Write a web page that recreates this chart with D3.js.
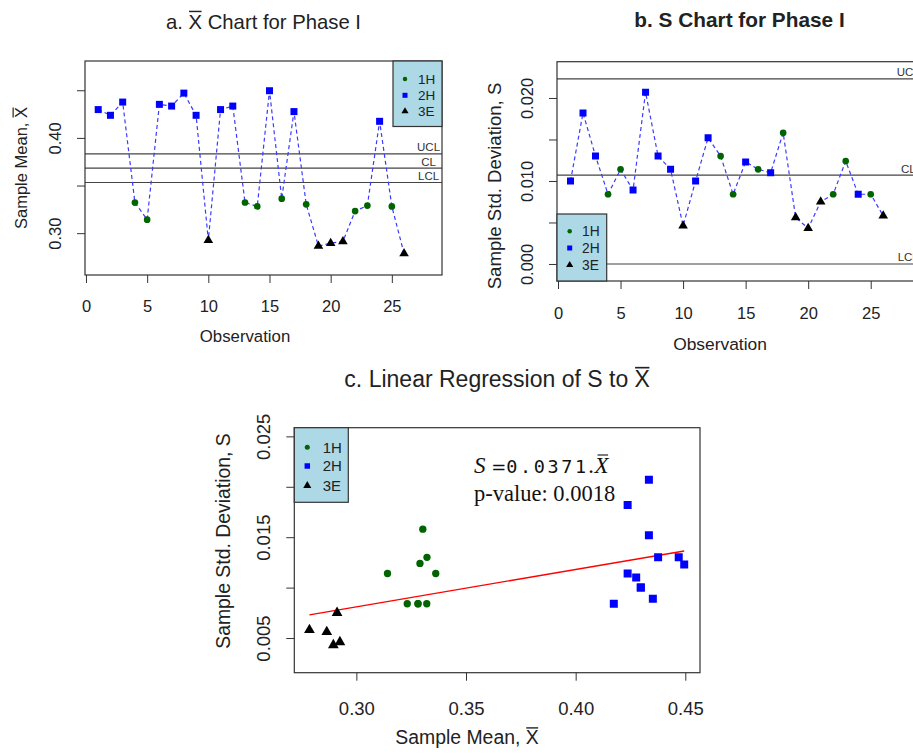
<!DOCTYPE html>
<html>
<head>
<meta charset="utf-8">
<script src="https://cdn.jsdelivr.net/npm/d3@7"></script>
<style>
  body { margin: 0; background: #fff; }
  svg { font-family: "Liberation Sans", Arial, sans-serif; }
</style>
</head>
<body>
<div id="chart"></div>
<script>
// data
var obsIndex = [1,2,3,4,5,6,7,8,9,10,11,12,13,14,15,16,17,18,19,20,21,22,23,24,25,26];
var group = ["2H","2H","2H","1H","1H","2H","2H","2H","2H","3E","2H","2H","1H",
             "1H","2H","1H","2H","1H","3E","3E","3E","1H","1H","2H","1H","3E"];
var sampleMean = [0.4297,0.4237,0.4376,0.3321,0.3142,0.4352,0.4334,0.4470,0.4237,0.2925,0.4297,0.4334,0.3322,
                  0.3281,0.4495,0.3362,0.4276,0.3303,0.2865,0.2895,0.2912,0.3232,0.3290,0.4174,0.3281,0.2786];
var sampleSD = [0.0100,0.0182,0.0130,0.0084,0.0114,0.0089,0.0207,0.0130,0.0114,0.0046,0.0100,0.0152,0.0130,
                0.0084,0.0123,0.0114,0.0110,0.0158,0.0056,0.0043,0.0075,0.0084,0.0124,0.0084,0.0084,0.0058];
var limitNames = ["UCL","CL","LCL"];
var meanLimits = [0.3832, 0.3682, 0.3532];
var sdLimits = [0.0223, 0.0107, 0.0];
var groupNames = ["1H","2H","3E"];
var obsTicks = [0,5,10,15,20,25];
var meanTicks = [0.30,0.35,0.40,0.45];
var meanTickLabels = ["0.30","","0.40",""];
var sdTicks = [0.000,0.005,0.010,0.015,0.020];
var sdTickLabels = ["0.000","","0.010","","0.020"];
var regMeanTicks = [0.30,0.35,0.40,0.45];
var regMeanTickLabels = ["0.30","0.35","0.40","0.45"];
var regSdTicks = [0.005,0.010,0.015,0.020,0.025];
var regSdTickLabels = ["0.005","","0.015","","0.025"];
var regSlope = 0.0371, regIntercept = -0.00304;
var regSlopeLabel = "0.0371", pValueLabel = "0.0018";
var limitLabelAt = 28;

var colors = {"1H": "#006400", "2H": "#0000ff", "3E": "#000000"};
var shapes = {"1H": d3.symbolCircle, "2H": d3.symbolSquare, "3E": d3.symbolTriangle};

var svg = d3.select("#chart").append("svg")
    .attr("width", 913)
    .attr("height", 754);

var rows = obsIndex.map(function(d, i) {
  return {obs: d, g: group[i], mean: sampleMean[i], sd: sampleSD[i]};
});

// text with an overline bar over one character (for X-bar)
function addText(parent, str, o) {
  var g = parent.append("g")
      .attr("transform", "translate(" + o.x + "," + o.y + ")" + (o.rotate ? " rotate(" + o.rotate + ")" : ""));
  var t = g.append("text")
      .attr("text-anchor", o.anchor || "middle")
      .style("font-size", o.size + "px")
      .style("font-weight", o.weight || "normal")
      .style("fill", o.fill || "#222")
      .text(str);
  if (o.bar != null) {
    var n = t.node();
    var s = n.getStartPositionOfChar(o.bar), e = n.getEndPositionOfChar(o.bar);
    var yb = -o.size * 0.84;
    g.append("line")
        .attr("x1", s.x + 0.5).attr("x2", e.x - 0.5)
        .attr("y1", yb).attr("y2", yb)
        .attr("stroke", o.fill || "#222")
        .attr("stroke-width", o.size / 14);
  }
  return t;
}

function drawPanel(p) {
  var x = d3.scaleLinear().domain(p.xDomain).range([p.left, p.right]);
  var y = d3.scaleLinear().domain(p.yDomain).range([p.bottom, p.top]);
  var g = svg.append("g");

  // x axis
  var xa = g.append("g")
      .attr("transform", "translate(0," + p.bottom + ")")
      .call(d3.axisBottom(x).tickValues(p.xTicks).tickSize(8)
            .tickFormat(function(d, i) { return p.xTickLabels ? p.xTickLabels[i] : d; }));
  xa.select(".domain").remove();
  xa.selectAll("line").attr("stroke", "#333");
  xa.selectAll("text").attr("dy", 0).attr("y", p.xLabelOff)
      .style("font-size", p.tickSize + "px").style("font-family", null).attr("fill", "#222");

  // y axis, labels rotated as in R
  var ya = g.append("g")
      .attr("transform", "translate(" + p.left + ",0)")
      .call(d3.axisLeft(y).tickValues(p.yTicks).tickSize(8)
            .tickFormat(function(d, i) { return p.yTickLabels[i]; }));
  ya.select(".domain").remove();
  ya.selectAll("line").attr("stroke", "#333");
  ya.selectAll("text")
      .attr("transform", "rotate(-90)")
      .attr("x", 0).attr("y", -24).attr("dy", 0)
      .attr("text-anchor", "middle")
      .style("font-size", p.tickSize + "px").style("font-family", null).attr("fill", "#222");

  // clip for marks
  var clipId = "clip" + p.id;
  g.append("clipPath").attr("id", clipId).append("rect")
      .attr("x", p.left).attr("y", p.top)
      .attr("width", p.right - p.left).attr("height", p.bottom - p.top);
  var inner = g.append("g").attr("clip-path", "url(#" + clipId + ")");

  p.drawInner(inner, x, y);

  // plot box
  g.append("rect")
      .attr("x", p.left).attr("y", p.top)
      .attr("width", p.right - p.left).attr("height", p.bottom - p.top)
      .attr("fill", "none").attr("stroke", "#333").attr("stroke-width", 1.2);

  // legend
  var lg = p.legend;
  g.append("rect")
      .attr("x", lg.x0).attr("y", lg.y0)
      .attr("width", lg.x1 - lg.x0).attr("height", lg.y1 - lg.y0)
      .attr("fill", "#add8e6").attr("stroke", "#333").attr("stroke-width", 1.2);
  groupNames.forEach(function(name, i) {
    g.append("path")
        .attr("d", d3.symbol().type(shapes[name]).size(lg.sizes[i])())
        .attr("transform", "translate(" + lg.mx + "," + lg.rows[i] + ")")
        .attr("fill", colors[name]);
    g.append("text")
        .attr("x", lg.tx).attr("y", lg.rows[i]).attr("dy", "0.36em")
        .style("font-size", lg.font + "px").attr("fill", "#222")
        .text(name);
  });

  // titles
  addText(svg, p.title, {x: (p.left + p.right) / 2, y: p.titleY, size: p.titleSize,
                         weight: p.titleWeight, bar: p.titleBar});
  addText(svg, p.xTitle, {x: p.xTitleX, y: p.bottom + p.xTitleOff,
                          size: p.xTitleSize, bar: p.xTitleBar});
  addText(svg, p.yTitle, {x: p.left - p.yTitleOff, y: p.yTitleY, rotate: -90,
                          size: p.yTitleSize, bar: p.yTitleBar});
  return {x: x, y: y};
}

function controlChart(inner, x, y, field, limits, sizes) {
  // limit lines
  limits.forEach(function(v, i) {
    inner.append("line")
        .attr("x1", x.range()[0]).attr("x2", x.range()[1])
        .attr("y1", y(v)).attr("y2", y(v))
        .attr("stroke", "#444").attr("stroke-width", 1.2);
    inner.append("text")
        .attr("x", x(limitLabelAt)).attr("y", y(v) - 2.5)
        .attr("text-anchor", "middle")
        .style("font-size", "11.5px").attr("fill", "#333")
        .text(limitNames[i]);
  });
  // dashed connecting line
  inner.append("path")
      .datum(rows)
      .attr("d", d3.line().x(function(d) { return x(d.obs); }).y(function(d) { return y(d[field]); }))
      .attr("fill", "none")
      .attr("stroke", "#3b3bff")
      .attr("stroke-width", 1.2)
      .attr("stroke-dasharray", "4,3");
  inner.selectAll(".pt")
      .data(rows).enter()
      .append("path")
      .attr("d", function(d) { return d3.symbol().type(shapes[d.g]).size(sizes[d.g])(); })
      .attr("transform", function(d) { return "translate(" + x(d.obs) + "," + y(d[field]) + ")"; })
      .attr("fill", function(d) { return colors[d.g]; });
}

var smallSizes = {"1H": 35, "2H": 49, "3E": 40};

// a. X-bar chart
drawPanel({
  id: "a", left: 85, right: 442, top: 61, bottom: 275,
  xDomain: [-0.08, 29.1], yDomain: [0.2561, 0.4807],
  xTicks: obsTicks, yTicks: meanTicks, yTickLabels: meanTickLabels,
  tickSize: 16.5, xLabelOff: 37,
  title: "a. X Chart for Phase I", titleBar: 3, titleY: 28.5, titleSize: 20.3,
  xTitle: "Observation", xTitleOff: 67, xTitleX: 245, xTitleSize: 16.8,
  yTitle: "Sample Mean, X", yTitleBar: 13, yTitleOff: 58, yTitleY: 168, yTitleSize: 16.5,
  legend: {x0: 393, x1: 442, y0: 61, y1: 126.5, rows: [79, 95.3, 111.3], mx: 405, tx: 418,
           font: 13.5, sizes: [16, 25, 22]},
  drawInner: function(inner, x, y) { controlChart(inner, x, y, "mean", meanLimits, smallSizes); }
});

// b. S chart
drawPanel({
  id: "b", left: 557, right: 922, top: 61.7, bottom: 281,
  xDomain: [-0.08, 29.1], yDomain: [-0.00205, 0.02437],
  xTicks: obsTicks, yTicks: sdTicks, yTickLabels: sdTickLabels,
  tickSize: 16.5, xLabelOff: 38,
  title: "b. S Chart for Phase I", titleY: 26.7, titleSize: 20.8, titleWeight: "bold",
  xTitle: "Observation", xTitleOff: 69, xTitleX: 720, xTitleSize: 17.4,
  yTitle: "Sample Std. Deviation, S", yTitleOff: 56, yTitleY: 186, yTitleSize: 18.6,
  legend: {x0: 557, x1: 606.7, y0: 214, y1: 281, rows: [231.3, 248, 265], mx: 569.7, tx: 582,
           font: 13.8, sizes: [16, 25, 22]},
  drawInner: function(inner, x, y) { controlChart(inner, x, y, "sd", sdLimits, smallSizes); }
});

// c. regression of S on X-bar
var bigSizes = {"1H": 42, "2H": 64, "3E": 50};
var pc = drawPanel({
  id: "c", left: 294.3, right: 700, top: 427.7, bottom: 672.7,
  xDomain: [0.2717, 0.4567], yDomain: [0.00156, 0.02586],
  xTicks: regMeanTicks, xTickLabels: regMeanTickLabels, yTicks: regSdTicks, yTickLabels: regSdTickLabels,
  tickSize: 18.5, xLabelOff: 42,
  title: "c. Linear Regression of S to X", titleBar: 29, titleY: 387, titleSize: 23,
  xTitle: "Sample Mean, X", xTitleBar: 13, xTitleOff: 71.5, xTitleX: 467, xTitleSize: 19.4,
  yTitle: "Sample Std. Deviation, S", yTitleOff: 64, yTitleY: 541, yTitleSize: 19.4,
  legend: {x0: 294.3, x1: 348.3, y0: 427.7, y1: 502.3, rows: [447.3, 466, 485.7], mx: 307.3, tx: 322.7,
           font: 15, sizes: [20, 30, 28]},
  drawInner: function(inner, x, y) {
    var ext = d3.extent(sampleMean);
    inner.append("line")
        .attr("x1", x(ext[0])).attr("y1", y(regIntercept + regSlope * ext[0]))
        .attr("x2", x(ext[1])).attr("y2", y(regIntercept + regSlope * ext[1]))
        .attr("stroke", "#ff0000").attr("stroke-width", 1.4);
    inner.selectAll(".pt")
        .data(rows).enter()
        .append("path")
        .attr("d", function(d) { return d3.symbol().type(shapes[d.g]).size(bigSizes[d.g])(); })
        .attr("transform", function(d) { return "translate(" + x(d.mean) + "," + y(d.sd) + ")"; })
        .attr("fill", function(d) { return colors[d.g]; });
  }
});

// regression equation
var eq = svg.append("g").attr("transform", "translate(474,473)");
var et = eq.append("text").attr("fill", "#111");
et.append("tspan").style("font-family", "'Liberation Serif', serif").style("font-style", "italic")
    .style("font-size", "23px").text("S ");
et.append("tspan").style("font-family", "'DejaVu Sans', sans-serif").style("font-size", "18px").text("=");
et.append("tspan").style("font-family", "'DejaVu Sans Mono', monospace").style("font-size", "18.5px")
    .style("letter-spacing", "2.6px").text(regSlopeLabel);
et.append("tspan").style("font-family", "'Liberation Serif', serif").style("font-style", "italic")
    .style("font-size", "23px").text(".X");
var xi = ("S =" + regSlopeLabel + ".").length;
var s0 = et.node().getStartPositionOfChar(xi), s1 = et.node().getEndPositionOfChar(xi);
eq.append("line").attr("x1", s0.x + 3).attr("x2", s1.x - 0.5).attr("y1", -18).attr("y2", -18)
    .attr("stroke", "#111").attr("stroke-width", 1.1);
svg.append("text")
    .attr("x", 474).attr("y", 501)
    .style("font-family", "'Liberation Serif', serif").style("font-size", "22.5px")
    .attr("fill", "#111")
    .text("p-value: " + pValueLabel);
</script>
</body>
</html>
